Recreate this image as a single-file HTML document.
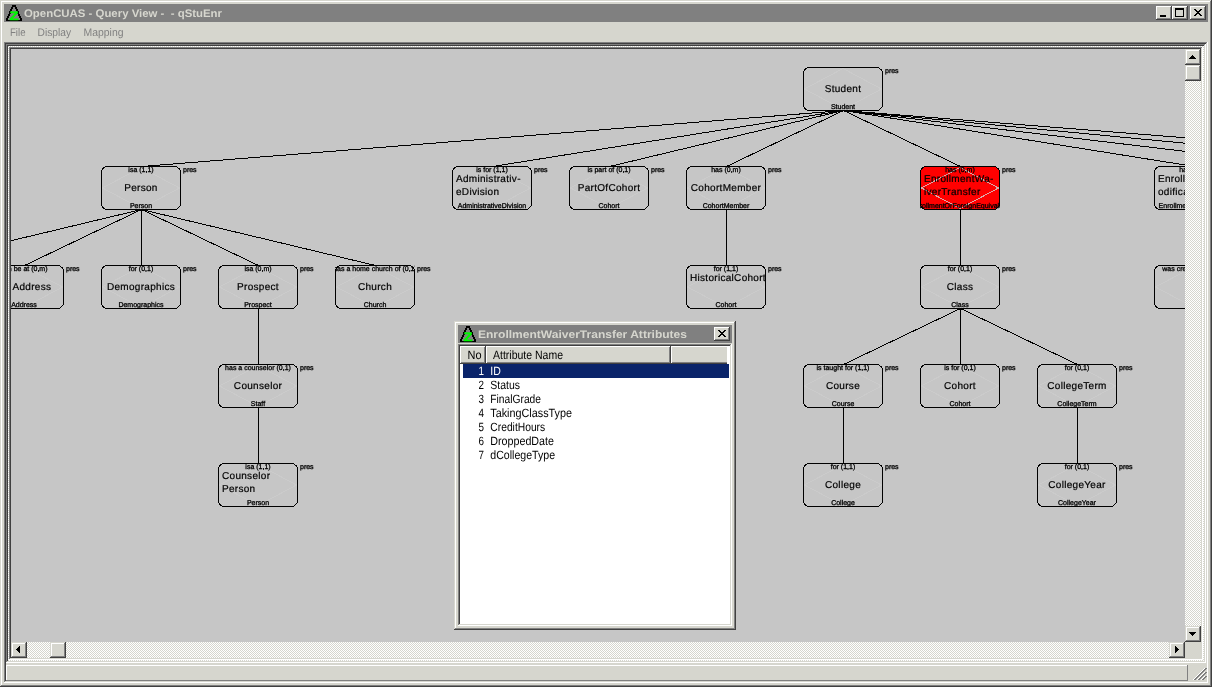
<!DOCTYPE html>
<html lang="en"><head><meta charset="utf-8"><title>OpenCUAS - Query View -  - qStuEnr</title>
<style>
html,body{margin:0;padding:0;background:#d6d6ce;overflow:hidden}
svg text{white-space:pre}
svg{display:block;font-family:"Liberation Sans",sans-serif;will-change:transform;-webkit-font-smoothing:antialiased}
</style></head><body>
<svg width="1212" height="687" viewBox="0 0 1212 687" shape-rendering="crispEdges" text-rendering="geometricPrecision">
<rect x="0" y="0" width="1212" height="687" fill="#d6d6ce"/>
<rect x="0" y="0" width="1212" height="1" fill="#d6d6ce"/>
<rect x="0" y="0" width="1" height="687" fill="#d6d6ce"/>
<rect x="1" y="1" width="1210" height="1" fill="#ffffff"/>
<rect x="1" y="1" width="1" height="685" fill="#ffffff"/>
<rect x="1" y="685" width="1210" height="1" fill="#808080"/>
<rect x="1210" y="1" width="1" height="685" fill="#808080"/>
<rect x="0" y="686" width="1212" height="1" fill="#404040"/>
<rect x="1211" y="0" width="1" height="687" fill="#404040"/>
<rect x="4" y="4" width="1204" height="18" fill="#808080"/>
<rect x="12" y="5" width="4" height="1" fill="#000"/>
<rect x="12" y="6" width="4" height="1" fill="#000"/>
<rect x="11" y="7" width="2" height="1" fill="#000"/>
<rect x="15" y="7" width="2" height="1" fill="#000"/>
<rect x="11" y="8" width="2" height="1" fill="#000"/>
<rect x="15" y="8" width="2" height="1" fill="#000"/>
<rect x="10" y="9" width="2" height="1" fill="#000"/>
<rect x="16" y="9" width="2" height="1" fill="#000"/>
<rect x="10" y="10" width="2" height="1" fill="#000"/>
<rect x="16" y="10" width="2" height="1" fill="#000"/>
<rect x="9" y="11" width="2" height="1" fill="#000"/>
<rect x="17" y="11" width="2" height="1" fill="#000"/>
<rect x="9" y="12" width="2" height="1" fill="#000"/>
<rect x="17" y="12" width="2" height="1" fill="#000"/>
<rect x="9" y="13" width="2" height="1" fill="#000"/>
<rect x="17" y="13" width="2" height="1" fill="#000"/>
<rect x="8" y="14" width="2" height="1" fill="#000"/>
<rect x="18" y="14" width="2" height="1" fill="#000"/>
<rect x="8" y="15" width="2" height="1" fill="#000"/>
<rect x="18" y="15" width="2" height="1" fill="#000"/>
<rect x="7" y="16" width="2" height="1" fill="#000"/>
<rect x="19" y="16" width="2" height="1" fill="#000"/>
<rect x="7" y="17" width="2" height="1" fill="#000"/>
<rect x="19" y="17" width="2" height="1" fill="#000"/>
<rect x="6" y="18" width="2" height="1" fill="#000"/>
<rect x="20" y="18" width="2" height="1" fill="#000"/>
<rect x="6" y="19" width="2" height="1" fill="#000"/>
<rect x="20" y="19" width="2" height="1" fill="#000"/>
<rect x="6" y="20" width="16" height="1" fill="#000"/>
<text x="14" y="19.7" font-size="12" font-weight="bold" text-anchor="middle" fill="#00f800" stroke="#00f800" stroke-width="0.4" textLength="9" lengthAdjust="spacingAndGlyphs">Z</text>
<text x="24" y="17" font-size="11" font-weight="bold" fill="#d6d6ce" textLength="198" lengthAdjust="spacingAndGlyphs" xml:space="preserve">OpenCUAS - Query View -  - qStuEnr</text>
<rect x="1156" y="6" width="16" height="14" fill="#d6d6ce"/>
<rect x="1156" y="6" width="16" height="1" fill="#ffffff"/>
<rect x="1156" y="6" width="1" height="14" fill="#ffffff"/>
<rect x="1157" y="18" width="14" height="1" fill="#808080"/>
<rect x="1170" y="7" width="1" height="12" fill="#808080"/>
<rect x="1156" y="19" width="16" height="1" fill="#404040"/>
<rect x="1171" y="6" width="1" height="14" fill="#404040"/>
<rect x="1160" y="15" width="6" height="2" fill="#000"/>
<rect x="1172" y="6" width="16" height="14" fill="#d6d6ce"/>
<rect x="1172" y="6" width="16" height="1" fill="#ffffff"/>
<rect x="1172" y="6" width="1" height="14" fill="#ffffff"/>
<rect x="1173" y="18" width="14" height="1" fill="#808080"/>
<rect x="1186" y="7" width="1" height="12" fill="#808080"/>
<rect x="1172" y="19" width="16" height="1" fill="#404040"/>
<rect x="1187" y="6" width="1" height="14" fill="#404040"/>
<rect x="1175" y="8" width="9" height="2" fill="#000"/>
<rect x="1175" y="8" width="1" height="9" fill="#000"/>
<rect x="1183" y="8" width="1" height="9" fill="#000"/>
<rect x="1175" y="16" width="9" height="1" fill="#000"/>
<rect x="1190" y="6" width="16" height="14" fill="#d6d6ce"/>
<rect x="1190" y="6" width="16" height="1" fill="#ffffff"/>
<rect x="1190" y="6" width="1" height="14" fill="#ffffff"/>
<rect x="1191" y="18" width="14" height="1" fill="#808080"/>
<rect x="1204" y="7" width="1" height="12" fill="#808080"/>
<rect x="1190" y="19" width="16" height="1" fill="#404040"/>
<rect x="1205" y="6" width="1" height="14" fill="#404040"/>
<rect x="1194" y="9" width="2" height="1" fill="#000"/>
<rect x="1200" y="9" width="2" height="1" fill="#000"/>
<rect x="1195" y="10" width="2" height="1" fill="#000"/>
<rect x="1199" y="10" width="2" height="1" fill="#000"/>
<rect x="1196" y="11" width="2" height="1" fill="#000"/>
<rect x="1198" y="11" width="2" height="1" fill="#000"/>
<rect x="1197" y="12" width="2" height="1" fill="#000"/>
<rect x="1197" y="12" width="2" height="1" fill="#000"/>
<rect x="1198" y="13" width="2" height="1" fill="#000"/>
<rect x="1196" y="13" width="2" height="1" fill="#000"/>
<rect x="1199" y="14" width="2" height="1" fill="#000"/>
<rect x="1195" y="14" width="2" height="1" fill="#000"/>
<rect x="1200" y="15" width="2" height="1" fill="#000"/>
<rect x="1194" y="15" width="2" height="1" fill="#000"/>
<text x="10" y="36" font-size="11" fill="#808080" textLength="15.5" lengthAdjust="spacingAndGlyphs" xml:space="preserve">File</text>
<text x="37.5" y="36" font-size="11" fill="#808080" textLength="33.5" lengthAdjust="spacingAndGlyphs" xml:space="preserve">Display</text>
<text x="83.5" y="36" font-size="11" fill="#808080" textLength="40" lengthAdjust="spacingAndGlyphs" xml:space="preserve">Mapping</text>
<rect x="4" y="42" width="1204" height="1" fill="#808080"/>
<rect x="4" y="42" width="1" height="641" fill="#808080"/>
<rect x="5" y="43" width="1202" height="1" fill="#404040"/>
<rect x="5" y="43" width="1" height="639" fill="#404040"/>
<rect x="5" y="681" width="1202" height="1" fill="#d6d6ce"/>
<rect x="1206" y="43" width="1" height="639" fill="#d6d6ce"/>
<rect x="4" y="682" width="1204" height="1" fill="#ffffff"/>
<rect x="1207" y="42" width="1" height="641" fill="#ffffff"/>
<rect x="6" y="44" width="1200" height="1" fill="#808080"/>
<rect x="6" y="44" width="1" height="619" fill="#808080"/>
<rect x="7" y="45" width="1198" height="1" fill="#404040"/>
<rect x="7" y="45" width="1" height="617" fill="#404040"/>
<rect x="7" y="661" width="1198" height="1" fill="#d6d6ce"/>
<rect x="1204" y="45" width="1" height="617" fill="#d6d6ce"/>
<rect x="6" y="662" width="1200" height="1" fill="#ffffff"/>
<rect x="1205" y="44" width="1" height="619" fill="#ffffff"/>
<rect x="9" y="47" width="1194" height="1" fill="#808080"/>
<rect x="9" y="47" width="1" height="613" fill="#808080"/>
<rect x="10" y="48" width="1192" height="1" fill="#404040"/>
<rect x="10" y="48" width="1" height="611" fill="#404040"/>
<rect x="10" y="658" width="1192" height="1" fill="#d6d6ce"/>
<rect x="1201" y="48" width="1" height="611" fill="#d6d6ce"/>
<rect x="9" y="659" width="1194" height="1" fill="#ffffff"/>
<rect x="1202" y="47" width="1" height="613" fill="#ffffff"/>
<rect x="11" y="49" width="1174" height="593" fill="#c6c6c6"/>
<defs><pattern id="dth" width="2" height="2" patternUnits="userSpaceOnUse"><rect width="2" height="2" fill="#ffffff"/><rect x="0" y="0" width="1" height="1" fill="#d6d6ce"/><rect x="1" y="1" width="1" height="1" fill="#d6d6ce"/></pattern><clipPath id="cv"><rect x="11" y="49" width="1174" height="593"/></clipPath></defs>
<rect x="8" y="46" width="1196" height="1" fill="url(#dth)"/>
<rect x="8" y="660" width="1196" height="1" fill="url(#dth)"/>
<rect x="8" y="46" width="1" height="615" fill="url(#dth)"/>
<rect x="1203" y="46" width="1" height="615" fill="url(#dth)"/>
<rect x="1185" y="49" width="16" height="593" fill="url(#dth)"/>
<rect x="11" y="642" width="1174" height="16" fill="url(#dth)"/>
<rect x="1185" y="642" width="16" height="16" fill="#d6d6ce"/>
<rect x="1185" y="49" width="16" height="16" fill="#d6d6ce"/>
<rect x="1185" y="49" width="16" height="1" fill="#d6d6ce"/>
<rect x="1185" y="49" width="1" height="16" fill="#d6d6ce"/>
<rect x="1186" y="50" width="14" height="1" fill="#ffffff"/>
<rect x="1186" y="50" width="1" height="14" fill="#ffffff"/>
<rect x="1186" y="63" width="14" height="1" fill="#808080"/>
<rect x="1199" y="50" width="1" height="14" fill="#808080"/>
<rect x="1185" y="64" width="16" height="1" fill="#404040"/>
<rect x="1200" y="49" width="1" height="16" fill="#404040"/>
<rect x="1192" y="55" width="1" height="1" fill="#000"/>
<rect x="1191" y="56" width="3" height="1" fill="#000"/>
<rect x="1190" y="57" width="5" height="1" fill="#000"/>
<rect x="1189" y="58" width="7" height="1" fill="#000"/>
<rect x="1185" y="65" width="16" height="16" fill="#d6d6ce"/>
<rect x="1185" y="65" width="16" height="1" fill="#d6d6ce"/>
<rect x="1185" y="65" width="1" height="16" fill="#d6d6ce"/>
<rect x="1186" y="66" width="14" height="1" fill="#ffffff"/>
<rect x="1186" y="66" width="1" height="14" fill="#ffffff"/>
<rect x="1186" y="79" width="14" height="1" fill="#808080"/>
<rect x="1199" y="66" width="1" height="14" fill="#808080"/>
<rect x="1185" y="80" width="16" height="1" fill="#404040"/>
<rect x="1200" y="65" width="1" height="16" fill="#404040"/>
<rect x="1185" y="626" width="16" height="16" fill="#d6d6ce"/>
<rect x="1185" y="626" width="16" height="1" fill="#d6d6ce"/>
<rect x="1185" y="626" width="1" height="16" fill="#d6d6ce"/>
<rect x="1186" y="627" width="14" height="1" fill="#ffffff"/>
<rect x="1186" y="627" width="1" height="14" fill="#ffffff"/>
<rect x="1186" y="640" width="14" height="1" fill="#808080"/>
<rect x="1199" y="627" width="1" height="14" fill="#808080"/>
<rect x="1185" y="641" width="16" height="1" fill="#404040"/>
<rect x="1200" y="626" width="1" height="16" fill="#404040"/>
<rect x="1189" y="632" width="7" height="1" fill="#000"/>
<rect x="1190" y="633" width="5" height="1" fill="#000"/>
<rect x="1191" y="634" width="3" height="1" fill="#000"/>
<rect x="1192" y="635" width="1" height="1" fill="#000"/>
<rect x="11" y="642" width="16" height="16" fill="#d6d6ce"/>
<rect x="11" y="642" width="16" height="1" fill="#d6d6ce"/>
<rect x="11" y="642" width="1" height="16" fill="#d6d6ce"/>
<rect x="12" y="643" width="14" height="1" fill="#ffffff"/>
<rect x="12" y="643" width="1" height="14" fill="#ffffff"/>
<rect x="12" y="656" width="14" height="1" fill="#808080"/>
<rect x="25" y="643" width="1" height="14" fill="#808080"/>
<rect x="11" y="657" width="16" height="1" fill="#404040"/>
<rect x="26" y="642" width="1" height="16" fill="#404040"/>
<rect x="17" y="646" width="1" height="1" fill="#000"/>
<rect x="16" y="647" width="1" height="1" fill="#000"/>
<rect x="15" y="648" width="1" height="1" fill="#000"/>
<rect x="14" y="649" width="1" height="1" fill="#000"/>
<rect x="11" y="642" width="16" height="16" fill="#d6d6ce"/>
<rect x="11" y="642" width="16" height="16" fill="#d6d6ce"/>
<rect x="11" y="642" width="16" height="1" fill="#d6d6ce"/>
<rect x="11" y="642" width="1" height="16" fill="#d6d6ce"/>
<rect x="12" y="643" width="14" height="1" fill="#ffffff"/>
<rect x="12" y="643" width="1" height="14" fill="#ffffff"/>
<rect x="12" y="656" width="14" height="1" fill="#808080"/>
<rect x="25" y="643" width="1" height="14" fill="#808080"/>
<rect x="11" y="657" width="16" height="1" fill="#404040"/>
<rect x="26" y="642" width="1" height="16" fill="#404040"/>
<rect x="16" y="649" width="1" height="1" fill="#000"/>
<rect x="17" y="648" width="1" height="3" fill="#000"/>
<rect x="18" y="647" width="1" height="5" fill="#000"/>
<rect x="19" y="646" width="1" height="7" fill="#000"/>
<rect x="50" y="642" width="16" height="16" fill="#d6d6ce"/>
<rect x="50" y="642" width="16" height="1" fill="#d6d6ce"/>
<rect x="50" y="642" width="1" height="16" fill="#d6d6ce"/>
<rect x="51" y="643" width="14" height="1" fill="#ffffff"/>
<rect x="51" y="643" width="1" height="14" fill="#ffffff"/>
<rect x="51" y="656" width="14" height="1" fill="#808080"/>
<rect x="64" y="643" width="1" height="14" fill="#808080"/>
<rect x="50" y="657" width="16" height="1" fill="#404040"/>
<rect x="65" y="642" width="1" height="16" fill="#404040"/>
<rect x="1169" y="642" width="16" height="16" fill="#d6d6ce"/>
<rect x="1169" y="642" width="16" height="1" fill="#d6d6ce"/>
<rect x="1169" y="642" width="1" height="16" fill="#d6d6ce"/>
<rect x="1170" y="643" width="14" height="1" fill="#ffffff"/>
<rect x="1170" y="643" width="1" height="14" fill="#ffffff"/>
<rect x="1170" y="656" width="14" height="1" fill="#808080"/>
<rect x="1183" y="643" width="1" height="14" fill="#808080"/>
<rect x="1169" y="657" width="16" height="1" fill="#404040"/>
<rect x="1184" y="642" width="1" height="16" fill="#404040"/>
<rect x="1175" y="646" width="1" height="7" fill="#000"/>
<rect x="1176" y="647" width="1" height="5" fill="#000"/>
<rect x="1177" y="648" width="1" height="3" fill="#000"/>
<rect x="1178" y="649" width="1" height="1" fill="#000"/>
<rect x="6" y="665" width="1182" height="1" fill="#ffffff"/>
<rect x="6" y="665" width="1" height="16" fill="#ffffff"/>
<rect x="6" y="680" width="1182" height="1" fill="#808080"/>
<rect x="1187" y="665" width="1" height="16" fill="#808080"/>
<g shape-rendering="crispEdges">
<rect x="1193" y="679" width="1" height="1" fill="#ffffff"/>
<rect x="1194" y="679" width="1" height="1" fill="#808080"/>
<rect x="1195" y="679" width="1" height="1" fill="#808080"/>
<rect x="1194" y="678" width="1" height="1" fill="#ffffff"/>
<rect x="1195" y="678" width="1" height="1" fill="#808080"/>
<rect x="1196" y="678" width="1" height="1" fill="#808080"/>
<rect x="1195" y="677" width="1" height="1" fill="#ffffff"/>
<rect x="1196" y="677" width="1" height="1" fill="#808080"/>
<rect x="1197" y="677" width="1" height="1" fill="#808080"/>
<rect x="1196" y="676" width="1" height="1" fill="#ffffff"/>
<rect x="1197" y="676" width="1" height="1" fill="#808080"/>
<rect x="1198" y="676" width="1" height="1" fill="#808080"/>
<rect x="1197" y="675" width="1" height="1" fill="#ffffff"/>
<rect x="1198" y="675" width="1" height="1" fill="#808080"/>
<rect x="1199" y="675" width="1" height="1" fill="#808080"/>
<rect x="1198" y="674" width="1" height="1" fill="#ffffff"/>
<rect x="1199" y="674" width="1" height="1" fill="#808080"/>
<rect x="1200" y="674" width="1" height="1" fill="#808080"/>
<rect x="1199" y="673" width="1" height="1" fill="#ffffff"/>
<rect x="1200" y="673" width="1" height="1" fill="#808080"/>
<rect x="1201" y="673" width="1" height="1" fill="#808080"/>
<rect x="1200" y="672" width="1" height="1" fill="#ffffff"/>
<rect x="1201" y="672" width="1" height="1" fill="#808080"/>
<rect x="1202" y="672" width="1" height="1" fill="#808080"/>
<rect x="1201" y="671" width="1" height="1" fill="#ffffff"/>
<rect x="1202" y="671" width="1" height="1" fill="#808080"/>
<rect x="1203" y="671" width="1" height="1" fill="#808080"/>
<rect x="1202" y="670" width="1" height="1" fill="#ffffff"/>
<rect x="1203" y="670" width="1" height="1" fill="#808080"/>
<rect x="1204" y="670" width="1" height="1" fill="#808080"/>
<rect x="1203" y="669" width="1" height="1" fill="#ffffff"/>
<rect x="1204" y="669" width="1" height="1" fill="#808080"/>
<rect x="1205" y="669" width="1" height="1" fill="#808080"/>
<rect x="1204" y="668" width="1" height="1" fill="#ffffff"/>
<rect x="1205" y="668" width="1" height="1" fill="#808080"/>
<rect x="1206" y="668" width="1" height="1" fill="#808080"/>
<rect x="1197" y="679" width="1" height="1" fill="#ffffff"/>
<rect x="1198" y="679" width="1" height="1" fill="#808080"/>
<rect x="1199" y="679" width="1" height="1" fill="#808080"/>
<rect x="1198" y="678" width="1" height="1" fill="#ffffff"/>
<rect x="1199" y="678" width="1" height="1" fill="#808080"/>
<rect x="1200" y="678" width="1" height="1" fill="#808080"/>
<rect x="1199" y="677" width="1" height="1" fill="#ffffff"/>
<rect x="1200" y="677" width="1" height="1" fill="#808080"/>
<rect x="1201" y="677" width="1" height="1" fill="#808080"/>
<rect x="1200" y="676" width="1" height="1" fill="#ffffff"/>
<rect x="1201" y="676" width="1" height="1" fill="#808080"/>
<rect x="1202" y="676" width="1" height="1" fill="#808080"/>
<rect x="1201" y="675" width="1" height="1" fill="#ffffff"/>
<rect x="1202" y="675" width="1" height="1" fill="#808080"/>
<rect x="1203" y="675" width="1" height="1" fill="#808080"/>
<rect x="1202" y="674" width="1" height="1" fill="#ffffff"/>
<rect x="1203" y="674" width="1" height="1" fill="#808080"/>
<rect x="1204" y="674" width="1" height="1" fill="#808080"/>
<rect x="1203" y="673" width="1" height="1" fill="#ffffff"/>
<rect x="1204" y="673" width="1" height="1" fill="#808080"/>
<rect x="1205" y="673" width="1" height="1" fill="#808080"/>
<rect x="1204" y="672" width="1" height="1" fill="#ffffff"/>
<rect x="1205" y="672" width="1" height="1" fill="#808080"/>
<rect x="1206" y="672" width="1" height="1" fill="#808080"/>
<rect x="1201" y="679" width="1" height="1" fill="#ffffff"/>
<rect x="1202" y="679" width="1" height="1" fill="#808080"/>
<rect x="1203" y="679" width="1" height="1" fill="#808080"/>
<rect x="1202" y="678" width="1" height="1" fill="#ffffff"/>
<rect x="1203" y="678" width="1" height="1" fill="#808080"/>
<rect x="1204" y="678" width="1" height="1" fill="#808080"/>
<rect x="1203" y="677" width="1" height="1" fill="#ffffff"/>
<rect x="1204" y="677" width="1" height="1" fill="#808080"/>
<rect x="1205" y="677" width="1" height="1" fill="#808080"/>
<rect x="1204" y="676" width="1" height="1" fill="#ffffff"/>
<rect x="1205" y="676" width="1" height="1" fill="#808080"/>
<rect x="1206" y="676" width="1" height="1" fill="#808080"/>
</g>
<g clip-path="url(#cv)">
<line x1="843.5" y1="110.5" x2="141.5" y2="166.5" stroke="#000" stroke-width="1"/>
<line x1="843.5" y1="110.5" x2="492.5" y2="166.5" stroke="#000" stroke-width="1"/>
<line x1="843.5" y1="110.5" x2="609.5" y2="166.5" stroke="#000" stroke-width="1"/>
<line x1="843.5" y1="110.5" x2="726.5" y2="166.5" stroke="#000" stroke-width="1"/>
<line x1="843.5" y1="110.5" x2="960.5" y2="166.5" stroke="#000" stroke-width="1"/>
<line x1="843.5" y1="110.5" x2="1194.5" y2="166.5" stroke="#000" stroke-width="1"/>
<line x1="843.5" y1="110.5" x2="1311.5" y2="166.5" stroke="#000" stroke-width="1"/>
<line x1="843.5" y1="110.5" x2="1428.5" y2="166.5" stroke="#000" stroke-width="1"/>
<line x1="843.5" y1="110.5" x2="1545.5" y2="166.5" stroke="#000" stroke-width="1"/>
<line x1="141.5" y1="209.5" x2="-92.5" y2="265.5" stroke="#000" stroke-width="1"/>
<line x1="141.5" y1="209.5" x2="24.5" y2="265.5" stroke="#000" stroke-width="1"/>
<line x1="141.5" y1="209.5" x2="141.5" y2="265.5" stroke="#000" stroke-width="1"/>
<line x1="141.5" y1="209.5" x2="258.5" y2="265.5" stroke="#000" stroke-width="1"/>
<line x1="141.5" y1="209.5" x2="375.5" y2="265.5" stroke="#000" stroke-width="1"/>
<line x1="726.5" y1="209.5" x2="726.5" y2="265.5" stroke="#000" stroke-width="1"/>
<line x1="960.5" y1="209.5" x2="960.5" y2="265.5" stroke="#000" stroke-width="1"/>
<line x1="258.5" y1="308.5" x2="258.5" y2="364.5" stroke="#000" stroke-width="1"/>
<line x1="258.5" y1="407.5" x2="258.5" y2="463.5" stroke="#000" stroke-width="1"/>
<line x1="960.5" y1="308.5" x2="843.5" y2="364.5" stroke="#000" stroke-width="1"/>
<line x1="960.5" y1="308.5" x2="960.5" y2="364.5" stroke="#000" stroke-width="1"/>
<line x1="960.5" y1="308.5" x2="1077.5" y2="364.5" stroke="#000" stroke-width="1"/>
<line x1="843.5" y1="407.5" x2="843.5" y2="463.5" stroke="#000" stroke-width="1"/>
<line x1="1077.5" y1="407.5" x2="1077.5" y2="463.5" stroke="#000" stroke-width="1"/>
<line x1="1194.5" y1="209.5" x2="1194.5" y2="265.5" stroke="#000" stroke-width="1"/>
<rect x="803.5" y="67.5" width="79" height="43" rx="6" ry="6" fill="#c6c6c6" stroke="#000" stroke-width="1"/>
<polygon points="804.5,89 843,68.5 881.5,89 843,109.5" fill="none" stroke="#cbcbcb" stroke-width="1"/>
<clipPath id="n1"><rect x="803" y="65" width="80" height="48"/></clipPath>
<g clip-path="url(#n1)">
<text x="843" y="108.8" font-size="7" text-anchor="middle" fill="#000" stroke="#000" stroke-width="0.3" xml:space="preserve">Student</text>
</g>
<text x="843" y="92" font-size="10" text-anchor="middle" fill="#000" letter-spacing="0.3" stroke="#000" stroke-width="0.2" xml:space="preserve">Student</text>
<text x="885" y="73" font-size="7" fill="#000" stroke="#000" stroke-width="0.3" xml:space="preserve">pres</text>
<rect x="101.5" y="166.5" width="79" height="43" rx="6" ry="6" fill="#c6c6c6" stroke="#000" stroke-width="1"/>
<polygon points="102.5,188 141,167.5 179.5,188 141,208.5" fill="none" stroke="#cbcbcb" stroke-width="1"/>
<clipPath id="n2"><rect x="101" y="164" width="80" height="48"/></clipPath>
<g clip-path="url(#n2)">
<text x="141" y="172.3" font-size="7" text-anchor="middle" fill="#000" stroke="#000" stroke-width="0.3" xml:space="preserve">isa (1,1)</text>
<text x="141" y="207.8" font-size="7" text-anchor="middle" fill="#000" stroke="#000" stroke-width="0.3" xml:space="preserve">Person</text>
</g>
<text x="141" y="191" font-size="10" text-anchor="middle" fill="#000" letter-spacing="0.3" stroke="#000" stroke-width="0.2" xml:space="preserve">Person</text>
<text x="183" y="172" font-size="7" fill="#000" stroke="#000" stroke-width="0.3" xml:space="preserve">pres</text>
<rect x="452.5" y="166.5" width="79" height="43" rx="6" ry="6" fill="#c6c6c6" stroke="#000" stroke-width="1"/>
<polygon points="453.5,188 492,167.5 530.5,188 492,208.5" fill="none" stroke="#cbcbcb" stroke-width="1"/>
<clipPath id="n3"><rect x="452" y="164" width="80" height="48"/></clipPath>
<g clip-path="url(#n3)">
<text x="492" y="172.3" font-size="7" text-anchor="middle" fill="#000" stroke="#000" stroke-width="0.3" xml:space="preserve">is for (1,1)</text>
<text x="492" y="207.8" font-size="7" text-anchor="middle" fill="#000" stroke="#000" stroke-width="0.3" xml:space="preserve">AdministrativeDivision</text>
</g>
<text x="456" y="182" font-size="10" fill="#000" letter-spacing="0.3" stroke="#000" stroke-width="0.2" xml:space="preserve">Administrativ-</text>
<text x="456" y="195" font-size="10" fill="#000" letter-spacing="0.3" stroke="#000" stroke-width="0.2" xml:space="preserve">eDivision</text>
<text x="534" y="172" font-size="7" fill="#000" stroke="#000" stroke-width="0.3" xml:space="preserve">pres</text>
<rect x="569.5" y="166.5" width="79" height="43" rx="6" ry="6" fill="#c6c6c6" stroke="#000" stroke-width="1"/>
<polygon points="570.5,188 609,167.5 647.5,188 609,208.5" fill="none" stroke="#cbcbcb" stroke-width="1"/>
<clipPath id="n4"><rect x="569" y="164" width="80" height="48"/></clipPath>
<g clip-path="url(#n4)">
<text x="609" y="172.3" font-size="7" text-anchor="middle" fill="#000" stroke="#000" stroke-width="0.3" xml:space="preserve">is part of (0,1)</text>
<text x="609" y="207.8" font-size="7" text-anchor="middle" fill="#000" stroke="#000" stroke-width="0.3" xml:space="preserve">Cohort</text>
</g>
<text x="609" y="191" font-size="10" text-anchor="middle" fill="#000" letter-spacing="0.3" stroke="#000" stroke-width="0.2" xml:space="preserve">PartOfCohort</text>
<text x="651" y="172" font-size="7" fill="#000" stroke="#000" stroke-width="0.3" xml:space="preserve">pres</text>
<rect x="686.5" y="166.5" width="79" height="43" rx="6" ry="6" fill="#c6c6c6" stroke="#000" stroke-width="1"/>
<polygon points="687.5,188 726,167.5 764.5,188 726,208.5" fill="none" stroke="#cbcbcb" stroke-width="1"/>
<clipPath id="n5"><rect x="686" y="164" width="80" height="48"/></clipPath>
<g clip-path="url(#n5)">
<text x="726" y="172.3" font-size="7" text-anchor="middle" fill="#000" stroke="#000" stroke-width="0.3" xml:space="preserve">has (0,m)</text>
<text x="726" y="207.8" font-size="7" text-anchor="middle" fill="#000" stroke="#000" stroke-width="0.3" xml:space="preserve">CohortMember</text>
</g>
<text x="726" y="191" font-size="10" text-anchor="middle" fill="#000" letter-spacing="0.3" stroke="#000" stroke-width="0.2" xml:space="preserve">CohortMember</text>
<text x="768" y="172" font-size="7" fill="#000" stroke="#000" stroke-width="0.3" xml:space="preserve">pres</text>
<rect x="920.5" y="166.5" width="79" height="43" rx="6" ry="6" fill="#ff0000" stroke="#000" stroke-width="1"/>
<polygon points="921.5,188 960,167.5 998.5,188 960,208.5" fill="none" stroke="#dcaaaa" stroke-width="1"/>
<clipPath id="n6"><rect x="920" y="164" width="80" height="48"/></clipPath>
<g clip-path="url(#n6)">
<text x="960" y="172.3" font-size="7" text-anchor="middle" fill="#000" stroke="#000" stroke-width="0.3" xml:space="preserve">has (0,m)</text>
<text x="960" y="207.8" font-size="7" text-anchor="middle" fill="#000" stroke="#000" stroke-width="0.3" xml:space="preserve">EnrollmentOrForeignEquivalent</text>
</g>
<text x="924" y="182" font-size="10" fill="#000" letter-spacing="0.3" stroke="#000" stroke-width="0.2" xml:space="preserve">EnrollmentWa-</text>
<text x="924" y="195" font-size="10" fill="#000" letter-spacing="0.3" stroke="#000" stroke-width="0.2" xml:space="preserve">iverTransfer</text>
<text x="1002" y="172" font-size="7" fill="#000" stroke="#000" stroke-width="0.3" xml:space="preserve">pres</text>
<rect x="1154.5" y="166.5" width="79" height="43" rx="6" ry="6" fill="#c6c6c6" stroke="#000" stroke-width="1"/>
<polygon points="1155.5,188 1194,167.5 1232.5,188 1194,208.5" fill="none" stroke="#cbcbcb" stroke-width="1"/>
<clipPath id="n7"><rect x="1154" y="164" width="80" height="48"/></clipPath>
<g clip-path="url(#n7)">
<text x="1194" y="172.3" font-size="7" text-anchor="middle" fill="#000" stroke="#000" stroke-width="0.3" xml:space="preserve">has (0,m)</text>
<text x="1194" y="207.8" font-size="7" text-anchor="middle" fill="#000" stroke="#000" stroke-width="0.3" xml:space="preserve">EnrollmentModification</text>
</g>
<text x="1158" y="182" font-size="10" fill="#000" letter-spacing="0.3" stroke="#000" stroke-width="0.2" xml:space="preserve">EnrollmentM-</text>
<text x="1158" y="195" font-size="10" fill="#000" letter-spacing="0.3" stroke="#000" stroke-width="0.2" xml:space="preserve">odification</text>
<text x="1236" y="172" font-size="7" fill="#000" stroke="#000" stroke-width="0.3" xml:space="preserve">pres</text>
<rect x="-15.5" y="265.5" width="79" height="43" rx="6" ry="6" fill="#c6c6c6" stroke="#000" stroke-width="1"/>
<polygon points="-14.5,287 24,266.5 62.5,287 24,307.5" fill="none" stroke="#cbcbcb" stroke-width="1"/>
<clipPath id="n8"><rect x="-16" y="263" width="80" height="48"/></clipPath>
<g clip-path="url(#n8)">
<text x="24" y="271.3" font-size="7" text-anchor="middle" fill="#000" stroke="#000" stroke-width="0.3" xml:space="preserve">can be at (0,m)</text>
<text x="24" y="306.8" font-size="7" text-anchor="middle" fill="#000" stroke="#000" stroke-width="0.3" xml:space="preserve">Address</text>
</g>
<text x="12.5" y="290" font-size="10" fill="#000" letter-spacing="0.3" stroke="#000" stroke-width="0.2" xml:space="preserve">Address</text>
<text x="66" y="271" font-size="7" fill="#000" stroke="#000" stroke-width="0.3" xml:space="preserve">pres</text>
<rect x="101.5" y="265.5" width="79" height="43" rx="6" ry="6" fill="#c6c6c6" stroke="#000" stroke-width="1"/>
<polygon points="102.5,287 141,266.5 179.5,287 141,307.5" fill="none" stroke="#cbcbcb" stroke-width="1"/>
<clipPath id="n9"><rect x="101" y="263" width="80" height="48"/></clipPath>
<g clip-path="url(#n9)">
<text x="141" y="271.3" font-size="7" text-anchor="middle" fill="#000" stroke="#000" stroke-width="0.3" xml:space="preserve">for (0,1)</text>
<text x="141" y="306.8" font-size="7" text-anchor="middle" fill="#000" stroke="#000" stroke-width="0.3" xml:space="preserve">Demographics</text>
</g>
<text x="141" y="290" font-size="10" text-anchor="middle" fill="#000" letter-spacing="0.3" stroke="#000" stroke-width="0.2" xml:space="preserve">Demographics</text>
<text x="183" y="271" font-size="7" fill="#000" stroke="#000" stroke-width="0.3" xml:space="preserve">pres</text>
<rect x="218.5" y="265.5" width="79" height="43" rx="6" ry="6" fill="#c6c6c6" stroke="#000" stroke-width="1"/>
<polygon points="219.5,287 258,266.5 296.5,287 258,307.5" fill="none" stroke="#cbcbcb" stroke-width="1"/>
<clipPath id="n10"><rect x="218" y="263" width="80" height="48"/></clipPath>
<g clip-path="url(#n10)">
<text x="258" y="271.3" font-size="7" text-anchor="middle" fill="#000" stroke="#000" stroke-width="0.3" xml:space="preserve">isa (0,m)</text>
<text x="258" y="306.8" font-size="7" text-anchor="middle" fill="#000" stroke="#000" stroke-width="0.3" xml:space="preserve">Prospect</text>
</g>
<text x="258" y="290" font-size="10" text-anchor="middle" fill="#000" letter-spacing="0.3" stroke="#000" stroke-width="0.2" xml:space="preserve">Prospect</text>
<text x="300" y="271" font-size="7" fill="#000" stroke="#000" stroke-width="0.3" xml:space="preserve">pres</text>
<rect x="335.5" y="265.5" width="79" height="43" rx="6" ry="6" fill="#c6c6c6" stroke="#000" stroke-width="1"/>
<polygon points="336.5,287 375,266.5 413.5,287 375,307.5" fill="none" stroke="#cbcbcb" stroke-width="1"/>
<clipPath id="n11"><rect x="335" y="263" width="80" height="48"/></clipPath>
<g clip-path="url(#n11)">
<text x="375" y="271.3" font-size="7" text-anchor="middle" fill="#000" stroke="#000" stroke-width="0.3" xml:space="preserve">has a home church of (0,1)</text>
<text x="375" y="306.8" font-size="7" text-anchor="middle" fill="#000" stroke="#000" stroke-width="0.3" xml:space="preserve">Church</text>
</g>
<text x="375" y="290" font-size="10" text-anchor="middle" fill="#000" letter-spacing="0.3" stroke="#000" stroke-width="0.2" xml:space="preserve">Church</text>
<text x="417" y="271" font-size="7" fill="#000" stroke="#000" stroke-width="0.3" xml:space="preserve">pres</text>
<rect x="686.5" y="265.5" width="79" height="43" rx="6" ry="6" fill="#c6c6c6" stroke="#000" stroke-width="1"/>
<polygon points="687.5,287 726,266.5 764.5,287 726,307.5" fill="none" stroke="#cbcbcb" stroke-width="1"/>
<clipPath id="n12"><rect x="686" y="263" width="80" height="48"/></clipPath>
<g clip-path="url(#n12)">
<text x="726" y="271.3" font-size="7" text-anchor="middle" fill="#000" stroke="#000" stroke-width="0.3" xml:space="preserve">for (1,1)</text>
<text x="726" y="306.8" font-size="7" text-anchor="middle" fill="#000" stroke="#000" stroke-width="0.3" xml:space="preserve">Cohort</text>
</g>
<text x="690" y="281" font-size="10" fill="#000" letter-spacing="0.3" stroke="#000" stroke-width="0.2" xml:space="preserve">HistoricalCohort</text>
<text x="768" y="271" font-size="7" fill="#000" stroke="#000" stroke-width="0.3" xml:space="preserve">pres</text>
<rect x="920.5" y="265.5" width="79" height="43" rx="6" ry="6" fill="#c6c6c6" stroke="#000" stroke-width="1"/>
<polygon points="921.5,287 960,266.5 998.5,287 960,307.5" fill="none" stroke="#cbcbcb" stroke-width="1"/>
<clipPath id="n13"><rect x="920" y="263" width="80" height="48"/></clipPath>
<g clip-path="url(#n13)">
<text x="960" y="271.3" font-size="7" text-anchor="middle" fill="#000" stroke="#000" stroke-width="0.3" xml:space="preserve">for (0,1)</text>
<text x="960" y="306.8" font-size="7" text-anchor="middle" fill="#000" stroke="#000" stroke-width="0.3" xml:space="preserve">Class</text>
</g>
<text x="960" y="290" font-size="10" text-anchor="middle" fill="#000" letter-spacing="0.3" stroke="#000" stroke-width="0.2" xml:space="preserve">Class</text>
<text x="1002" y="271" font-size="7" fill="#000" stroke="#000" stroke-width="0.3" xml:space="preserve">pres</text>
<rect x="1154.5" y="265.5" width="79" height="43" rx="6" ry="6" fill="#c6c6c6" stroke="#000" stroke-width="1"/>
<polygon points="1155.5,287 1194,266.5 1232.5,287 1194,307.5" fill="none" stroke="#cbcbcb" stroke-width="1"/>
<clipPath id="n14"><rect x="1154" y="263" width="80" height="48"/></clipPath>
<g clip-path="url(#n14)">
<text x="1194" y="271.3" font-size="7" text-anchor="middle" fill="#000" stroke="#000" stroke-width="0.3" xml:space="preserve">was created by (1,1)</text>
</g>
<text x="1236" y="271" font-size="7" fill="#000" stroke="#000" stroke-width="0.3" xml:space="preserve">pres</text>
<rect x="218.5" y="364.5" width="79" height="43" rx="6" ry="6" fill="#c6c6c6" stroke="#000" stroke-width="1"/>
<polygon points="219.5,386 258,365.5 296.5,386 258,406.5" fill="none" stroke="#cbcbcb" stroke-width="1"/>
<clipPath id="n15"><rect x="218" y="362" width="80" height="48"/></clipPath>
<g clip-path="url(#n15)">
<text x="258" y="370.3" font-size="7" text-anchor="middle" fill="#000" stroke="#000" stroke-width="0.3" xml:space="preserve">has a counselor (0,1)</text>
<text x="258" y="405.8" font-size="7" text-anchor="middle" fill="#000" stroke="#000" stroke-width="0.3" xml:space="preserve">Staff</text>
</g>
<text x="258" y="389" font-size="10" text-anchor="middle" fill="#000" letter-spacing="0.3" stroke="#000" stroke-width="0.2" xml:space="preserve">Counselor</text>
<text x="300" y="370" font-size="7" fill="#000" stroke="#000" stroke-width="0.3" xml:space="preserve">pres</text>
<rect x="803.5" y="364.5" width="79" height="43" rx="6" ry="6" fill="#c6c6c6" stroke="#000" stroke-width="1"/>
<polygon points="804.5,386 843,365.5 881.5,386 843,406.5" fill="none" stroke="#cbcbcb" stroke-width="1"/>
<clipPath id="n16"><rect x="803" y="362" width="80" height="48"/></clipPath>
<g clip-path="url(#n16)">
<text x="843" y="370.3" font-size="7" text-anchor="middle" fill="#000" stroke="#000" stroke-width="0.3" xml:space="preserve">is taught for (1,1)</text>
<text x="843" y="405.8" font-size="7" text-anchor="middle" fill="#000" stroke="#000" stroke-width="0.3" xml:space="preserve">Course</text>
</g>
<text x="843" y="389" font-size="10" text-anchor="middle" fill="#000" letter-spacing="0.3" stroke="#000" stroke-width="0.2" xml:space="preserve">Course</text>
<text x="885" y="370" font-size="7" fill="#000" stroke="#000" stroke-width="0.3" xml:space="preserve">pres</text>
<rect x="920.5" y="364.5" width="79" height="43" rx="6" ry="6" fill="#c6c6c6" stroke="#000" stroke-width="1"/>
<polygon points="921.5,386 960,365.5 998.5,386 960,406.5" fill="none" stroke="#cbcbcb" stroke-width="1"/>
<clipPath id="n17"><rect x="920" y="362" width="80" height="48"/></clipPath>
<g clip-path="url(#n17)">
<text x="960" y="370.3" font-size="7" text-anchor="middle" fill="#000" stroke="#000" stroke-width="0.3" xml:space="preserve">is for (0,1)</text>
<text x="960" y="405.8" font-size="7" text-anchor="middle" fill="#000" stroke="#000" stroke-width="0.3" xml:space="preserve">Cohort</text>
</g>
<text x="960" y="389" font-size="10" text-anchor="middle" fill="#000" letter-spacing="0.3" stroke="#000" stroke-width="0.2" xml:space="preserve">Cohort</text>
<text x="1002" y="370" font-size="7" fill="#000" stroke="#000" stroke-width="0.3" xml:space="preserve">pres</text>
<rect x="1037.5" y="364.5" width="79" height="43" rx="6" ry="6" fill="#c6c6c6" stroke="#000" stroke-width="1"/>
<polygon points="1038.5,386 1077,365.5 1115.5,386 1077,406.5" fill="none" stroke="#cbcbcb" stroke-width="1"/>
<clipPath id="n18"><rect x="1037" y="362" width="80" height="48"/></clipPath>
<g clip-path="url(#n18)">
<text x="1077" y="370.3" font-size="7" text-anchor="middle" fill="#000" stroke="#000" stroke-width="0.3" xml:space="preserve">for (0,1)</text>
<text x="1077" y="405.8" font-size="7" text-anchor="middle" fill="#000" stroke="#000" stroke-width="0.3" xml:space="preserve">CollegeTerm</text>
</g>
<text x="1077" y="389" font-size="10" text-anchor="middle" fill="#000" letter-spacing="0.3" stroke="#000" stroke-width="0.2" xml:space="preserve">CollegeTerm</text>
<text x="1119" y="370" font-size="7" fill="#000" stroke="#000" stroke-width="0.3" xml:space="preserve">pres</text>
<rect x="218.5" y="463.5" width="79" height="43" rx="6" ry="6" fill="#c6c6c6" stroke="#000" stroke-width="1"/>
<polygon points="219.5,485 258,464.5 296.5,485 258,505.5" fill="none" stroke="#cbcbcb" stroke-width="1"/>
<clipPath id="n19"><rect x="218" y="461" width="80" height="48"/></clipPath>
<g clip-path="url(#n19)">
<text x="258" y="469.3" font-size="7" text-anchor="middle" fill="#000" stroke="#000" stroke-width="0.3" xml:space="preserve">isa (1,1)</text>
<text x="258" y="504.8" font-size="7" text-anchor="middle" fill="#000" stroke="#000" stroke-width="0.3" xml:space="preserve">Person</text>
</g>
<text x="222" y="479" font-size="10" fill="#000" letter-spacing="0.3" stroke="#000" stroke-width="0.2" xml:space="preserve">Counselor</text>
<text x="222" y="492" font-size="10" fill="#000" letter-spacing="0.3" stroke="#000" stroke-width="0.2" xml:space="preserve">Person</text>
<text x="300" y="469" font-size="7" fill="#000" stroke="#000" stroke-width="0.3" xml:space="preserve">pres</text>
<rect x="803.5" y="463.5" width="79" height="43" rx="6" ry="6" fill="#c6c6c6" stroke="#000" stroke-width="1"/>
<polygon points="804.5,485 843,464.5 881.5,485 843,505.5" fill="none" stroke="#cbcbcb" stroke-width="1"/>
<clipPath id="n20"><rect x="803" y="461" width="80" height="48"/></clipPath>
<g clip-path="url(#n20)">
<text x="843" y="469.3" font-size="7" text-anchor="middle" fill="#000" stroke="#000" stroke-width="0.3" xml:space="preserve">for (1,1)</text>
<text x="843" y="504.8" font-size="7" text-anchor="middle" fill="#000" stroke="#000" stroke-width="0.3" xml:space="preserve">College</text>
</g>
<text x="843" y="488" font-size="10" text-anchor="middle" fill="#000" letter-spacing="0.3" stroke="#000" stroke-width="0.2" xml:space="preserve">College</text>
<text x="885" y="469" font-size="7" fill="#000" stroke="#000" stroke-width="0.3" xml:space="preserve">pres</text>
<rect x="1037.5" y="463.5" width="79" height="43" rx="6" ry="6" fill="#c6c6c6" stroke="#000" stroke-width="1"/>
<polygon points="1038.5,485 1077,464.5 1115.5,485 1077,505.5" fill="none" stroke="#cbcbcb" stroke-width="1"/>
<clipPath id="n21"><rect x="1037" y="461" width="80" height="48"/></clipPath>
<g clip-path="url(#n21)">
<text x="1077" y="469.3" font-size="7" text-anchor="middle" fill="#000" stroke="#000" stroke-width="0.3" xml:space="preserve">for (0,1)</text>
<text x="1077" y="504.8" font-size="7" text-anchor="middle" fill="#000" stroke="#000" stroke-width="0.3" xml:space="preserve">CollegeYear</text>
</g>
<text x="1077" y="488" font-size="10" text-anchor="middle" fill="#000" letter-spacing="0.3" stroke="#000" stroke-width="0.2" xml:space="preserve">CollegeYear</text>
<text x="1119" y="469" font-size="7" fill="#000" stroke="#000" stroke-width="0.3" xml:space="preserve">pres</text>
</g>
<rect x="454" y="321" width="282" height="309" fill="#d6d6ce"/>
<rect x="454" y="321" width="282" height="1" fill="#d6d6ce"/>
<rect x="454" y="321" width="1" height="309" fill="#d6d6ce"/>
<rect x="455" y="322" width="280" height="1" fill="#ffffff"/>
<rect x="455" y="322" width="1" height="307" fill="#ffffff"/>
<rect x="455" y="628" width="280" height="1" fill="#808080"/>
<rect x="734" y="322" width="1" height="307" fill="#808080"/>
<rect x="454" y="629" width="282" height="1" fill="#404040"/>
<rect x="735" y="321" width="1" height="309" fill="#404040"/>
<rect x="458" y="325" width="274" height="18" fill="#808080"/>
<rect x="466" y="326" width="4" height="1" fill="#000"/>
<rect x="466" y="327" width="4" height="1" fill="#000"/>
<rect x="465" y="328" width="2" height="1" fill="#000"/>
<rect x="469" y="328" width="2" height="1" fill="#000"/>
<rect x="465" y="329" width="2" height="1" fill="#000"/>
<rect x="469" y="329" width="2" height="1" fill="#000"/>
<rect x="464" y="330" width="2" height="1" fill="#000"/>
<rect x="470" y="330" width="2" height="1" fill="#000"/>
<rect x="464" y="331" width="2" height="1" fill="#000"/>
<rect x="470" y="331" width="2" height="1" fill="#000"/>
<rect x="463" y="332" width="2" height="1" fill="#000"/>
<rect x="471" y="332" width="2" height="1" fill="#000"/>
<rect x="463" y="333" width="2" height="1" fill="#000"/>
<rect x="471" y="333" width="2" height="1" fill="#000"/>
<rect x="463" y="334" width="2" height="1" fill="#000"/>
<rect x="471" y="334" width="2" height="1" fill="#000"/>
<rect x="462" y="335" width="2" height="1" fill="#000"/>
<rect x="472" y="335" width="2" height="1" fill="#000"/>
<rect x="462" y="336" width="2" height="1" fill="#000"/>
<rect x="472" y="336" width="2" height="1" fill="#000"/>
<rect x="461" y="337" width="2" height="1" fill="#000"/>
<rect x="473" y="337" width="2" height="1" fill="#000"/>
<rect x="461" y="338" width="2" height="1" fill="#000"/>
<rect x="473" y="338" width="2" height="1" fill="#000"/>
<rect x="460" y="339" width="2" height="1" fill="#000"/>
<rect x="474" y="339" width="2" height="1" fill="#000"/>
<rect x="460" y="340" width="2" height="1" fill="#000"/>
<rect x="474" y="340" width="2" height="1" fill="#000"/>
<rect x="460" y="341" width="16" height="1" fill="#000"/>
<text x="468" y="340.7" font-size="12" font-weight="bold" text-anchor="middle" fill="#00f800" stroke="#00f800" stroke-width="0.4" textLength="9" lengthAdjust="spacingAndGlyphs">Z</text>
<text x="478" y="338" font-size="11" font-weight="bold" fill="#d6d6ce" textLength="209" lengthAdjust="spacingAndGlyphs" xml:space="preserve">EnrollmentWaiverTransfer Attributes</text>
<rect x="714" y="327" width="16" height="14" fill="#d6d6ce"/>
<rect x="714" y="327" width="16" height="1" fill="#ffffff"/>
<rect x="714" y="327" width="1" height="14" fill="#ffffff"/>
<rect x="715" y="339" width="14" height="1" fill="#808080"/>
<rect x="728" y="328" width="1" height="12" fill="#808080"/>
<rect x="714" y="340" width="16" height="1" fill="#404040"/>
<rect x="729" y="327" width="1" height="14" fill="#404040"/>
<rect x="718" y="330" width="2" height="1" fill="#000"/>
<rect x="724" y="330" width="2" height="1" fill="#000"/>
<rect x="719" y="331" width="2" height="1" fill="#000"/>
<rect x="723" y="331" width="2" height="1" fill="#000"/>
<rect x="720" y="332" width="2" height="1" fill="#000"/>
<rect x="722" y="332" width="2" height="1" fill="#000"/>
<rect x="721" y="333" width="2" height="1" fill="#000"/>
<rect x="721" y="333" width="2" height="1" fill="#000"/>
<rect x="722" y="334" width="2" height="1" fill="#000"/>
<rect x="720" y="334" width="2" height="1" fill="#000"/>
<rect x="723" y="335" width="2" height="1" fill="#000"/>
<rect x="719" y="335" width="2" height="1" fill="#000"/>
<rect x="724" y="336" width="2" height="1" fill="#000"/>
<rect x="718" y="336" width="2" height="1" fill="#000"/>
<rect x="458" y="344" width="274" height="1" fill="#808080"/>
<rect x="458" y="344" width="1" height="282" fill="#808080"/>
<rect x="459" y="345" width="272" height="1" fill="#404040"/>
<rect x="459" y="345" width="1" height="280" fill="#404040"/>
<rect x="459" y="624" width="272" height="1" fill="#d6d6ce"/>
<rect x="730" y="345" width="1" height="280" fill="#d6d6ce"/>
<rect x="458" y="625" width="274" height="1" fill="#ffffff"/>
<rect x="731" y="344" width="1" height="282" fill="#ffffff"/>
<rect x="460" y="346" width="270" height="278" fill="#ffffff"/>
<rect x="460" y="346" width="26" height="18" fill="#d6d6ce"/>
<rect x="460" y="346" width="26" height="1" fill="#ffffff"/>
<rect x="460" y="346" width="1" height="18" fill="#ffffff"/>
<rect x="461" y="362" width="24" height="1" fill="#808080"/>
<rect x="484" y="347" width="1" height="16" fill="#808080"/>
<rect x="460" y="363" width="26" height="1" fill="#404040"/>
<rect x="485" y="346" width="1" height="18" fill="#404040"/>
<rect x="486" y="346" width="185" height="18" fill="#d6d6ce"/>
<rect x="486" y="346" width="185" height="1" fill="#ffffff"/>
<rect x="486" y="346" width="1" height="18" fill="#ffffff"/>
<rect x="487" y="362" width="183" height="1" fill="#808080"/>
<rect x="669" y="347" width="1" height="16" fill="#808080"/>
<rect x="486" y="363" width="185" height="1" fill="#404040"/>
<rect x="670" y="346" width="1" height="18" fill="#404040"/>
<rect x="671" y="346" width="56" height="18" fill="#d6d6ce"/>
<rect x="671" y="346" width="56" height="1" fill="#ffffff"/>
<rect x="671" y="346" width="1" height="18" fill="#ffffff"/>
<rect x="672" y="362" width="55" height="1" fill="#808080"/>
<rect x="671" y="363" width="56" height="1" fill="#404040"/>
<text x="467.5" y="359" font-size="12" fill="#000" textLength="14" lengthAdjust="spacingAndGlyphs" xml:space="preserve">No</text>
<text x="493" y="359" font-size="12" fill="#000" textLength="70" lengthAdjust="spacingAndGlyphs" xml:space="preserve">Attribute Name</text>
<rect x="463" y="364" width="266" height="14" fill="#0a246a"/>
<text x="484" y="375" font-size="12" text-anchor="end" fill="#fff" textLength="5.5" lengthAdjust="spacingAndGlyphs" xml:space="preserve">1</text>
<text x="490.3" y="375" font-size="12" fill="#fff" textLength="10.5" lengthAdjust="spacingAndGlyphs" xml:space="preserve">ID</text>
<text x="484" y="389" font-size="12" text-anchor="end" fill="#000" textLength="5.5" lengthAdjust="spacingAndGlyphs" xml:space="preserve">2</text>
<text x="490.3" y="389" font-size="12" fill="#000" textLength="29.7" lengthAdjust="spacingAndGlyphs" xml:space="preserve">Status</text>
<text x="484" y="403" font-size="12" text-anchor="end" fill="#000" textLength="5.5" lengthAdjust="spacingAndGlyphs" xml:space="preserve">3</text>
<text x="490.3" y="403" font-size="12" fill="#000" textLength="50.7" lengthAdjust="spacingAndGlyphs" xml:space="preserve">FinalGrade</text>
<text x="484" y="417" font-size="12" text-anchor="end" fill="#000" textLength="5.5" lengthAdjust="spacingAndGlyphs" xml:space="preserve">4</text>
<text x="490.3" y="417" font-size="12" fill="#000" textLength="81.7" lengthAdjust="spacingAndGlyphs" xml:space="preserve">TakingClassType</text>
<text x="484" y="431" font-size="12" text-anchor="end" fill="#000" textLength="5.5" lengthAdjust="spacingAndGlyphs" xml:space="preserve">5</text>
<text x="490.3" y="431" font-size="12" fill="#000" textLength="54.9" lengthAdjust="spacingAndGlyphs" xml:space="preserve">CreditHours</text>
<text x="484" y="445" font-size="12" text-anchor="end" fill="#000" textLength="5.5" lengthAdjust="spacingAndGlyphs" xml:space="preserve">6</text>
<text x="490.3" y="445" font-size="12" fill="#000" textLength="63.7" lengthAdjust="spacingAndGlyphs" xml:space="preserve">DroppedDate</text>
<text x="484" y="459" font-size="12" text-anchor="end" fill="#000" textLength="5.5" lengthAdjust="spacingAndGlyphs" xml:space="preserve">7</text>
<text x="490.3" y="459" font-size="12" fill="#000" textLength="64.8" lengthAdjust="spacingAndGlyphs" xml:space="preserve">dCollegeType</text>
</svg>
</body></html>
